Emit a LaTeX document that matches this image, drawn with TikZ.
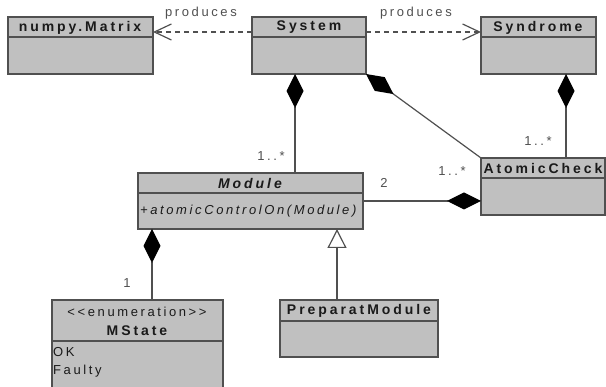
\documentclass[tikz,border=0pt]{standalone}
\usepackage{fontspec}
\setmainfont{Liberation Sans}
\newfontfamily\hdrfont[LetterSpace=21]{Liberation Sans}
\newfontfamily\txtfont[LetterSpace=20]{Liberation Sans}
\usetikzlibrary{arrows.meta}
\definecolor{boxfill}{HTML}{C0C0C0}
\definecolor{boxline}{HTML}{505050}
\definecolor{txtcol}{HTML}{1A1A1A}
\definecolor{lblcol}{HTML}{505050}
\begin{document}
\begin{tikzpicture}[x=1pt,y=-1pt,
  classbox/.style={draw=boxline, line width=1.4pt, fill=boxfill, anchor=north west, inner sep=0pt, outer sep=0pt},
  hline/.style={draw=boxline, line width=1.4pt},
  hdrtext/.style={text=txtcol, font=\hdrfont\fontsize{14}{16}\selectfont\bfseries, inner sep=0pt},
  bodytext/.style={text=txtcol, font=\txtfont\fontsize{13}{15}\selectfont, inner sep=0pt},
  lbl/.style={text=lblcol, font=\txtfont\fontsize{13}{15}\selectfont, inner sep=0pt},
  conn/.style={draw=boxline, line width=1.2pt},
  comp/.style={conn, {Diamond[length=34pt,width=17pt,color=black]}-},
  compend/.style={conn, -{Diamond[length=34pt,width=17pt,color=black]}},
  dep/.style={conn, dash pattern=on 5pt off 4pt, -{Straight Barb[length=17pt,width=16pt,line width=1.2pt]}},
  inherit/.style={conn, -{Triangle[open,length=19pt,width=19pt,fill=white,line width=1.2pt]}}
]
\useasboundingbox (0,0) rectangle (606,387);
\fill[white] (0,0) rectangle (606,387);

% class boxes
\node[classbox, minimum width=145pt, minimum height=57pt] (numpy) at (8,17) {};
\node[classbox, minimum width=114pt, minimum height=57pt] (system) at (252,17) {};
\node[classbox, minimum width=115pt, minimum height=57pt] (syndrome) at (481,17) {};
\node[classbox, minimum width=124pt, minimum height=57pt] (atomic) at (481,158) {};
\node[classbox, minimum width=225pt, minimum height=56pt] (module) at (138,173) {};
\node[classbox, minimum width=171pt, minimum height=100pt] (mstate) at (52,300) {};
\node[classbox, minimum width=158pt, minimum height=57pt] (prep) at (280,300) {};

% header separators
\draw[hline] (numpy.west |- 0,37) -- (numpy.east |- 0,37);
\draw[hline] (system.west |- 0,37) -- (system.east |- 0,37);
\draw[hline] (syndrome.west |- 0,37) -- (syndrome.east |- 0,37);
\draw[hline] (atomic.west |- 0,178) -- (atomic.east |- 0,178);
\draw[hline] (module.west |- 0,193) -- (module.east |- 0,193);
\draw[hline] (mstate.west |- 0,341) -- (mstate.east |- 0,341);
\draw[hline] (prep.west |- 0,321) -- (prep.east |- 0,321);

% header texts
\node[hdrtext] (tnumpy) at (80,27.5) {numpy.Matrix};
\node[hdrtext] (tsystem) at (309,27.5) {System};
\node[hdrtext] (tsyndrome) at (538,27.5) {Syndrome};
\node[hdrtext] (tatomic) at (543,168.5) {AtomicCheck};
\node[hdrtext, font=\hdrfont\fontsize{14}{16}\selectfont\bfseries\itshape] (tmodule) at (250,183.5) {Module};
\node[bodytext, anchor=west, font=\txtfont\fontsize{13}{15}\selectfont\itshape] (tmeth) at (140,211) {+atomicControlOn(Module)};
\node[bodytext] (tenum) at (137,312) {<{}<enumeration>{}>};
\node[hdrtext] (tmstate) at (137,331) {MState};
\node[bodytext, anchor=west] (tok) at (53,352) {OK};
\node[bodytext, anchor=west] (tfaulty) at (53,371) {Faulty};
\node[hdrtext] (tprep) at (359,311) {PreparatModule};

% dependencies
\draw[dep] (system.west |- 0,32) -- (numpy.east |- 0,32);
\draw[dep] (system.east |- 0,32) -- (syndrome.west |- 0,32);
\node[lbl] (lp1) at (201,13) {produces};
\node[lbl] (lp2) at (416,13) {produces};

% compositions
\draw[comp] (system.south -| 295,0) -- (module.north -| 295,0);
\draw[comp] (system.south east) -- (atomic.north west);
\draw[comp] (syndrome.south -| 566,0) -- (atomic.north -| 566,0);
\draw[compend] (module.east |- 0,201) -- (atomic.west |- 0,201);
\draw[comp] (module.south -| 152,0) -- (mstate.north -| 152,0);

% inheritance
\draw[inherit] (prep.north -| 337,0) -- (module.south -| 337,0);

% multiplicities
\node[lbl] (m1) at (271,156) {1..*};
\node[lbl] (m2) at (452,171) {1..*};
\node[lbl] (m3) at (538,141) {1..*};
\node[lbl] (m4) at (384,183) {2};
\node[lbl] (m5) at (127,283) {1};
\end{tikzpicture}
\end{document}
